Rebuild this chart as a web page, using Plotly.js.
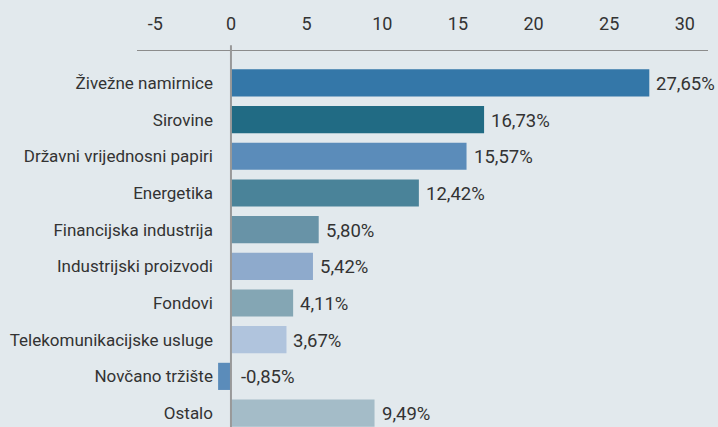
<!DOCTYPE html>
<html><head><meta charset="utf-8">
<script src="https://cdn.plot.ly/plotly-3.0.1.min.js"></script>
<style>html,body{margin:0;padding:0;background:#e2e9ed;}</style>
</head><body>
<div id="chart" style="width:718px;height:427px;"></div>
<script>
const categories = ["Živežne namirnice","Sirovine","Državni vrijednosni papiri","Energetika","Financijska industrija","Industrijski proizvodi","Fondovi","Telekomunikacijske usluge","Novčano tržište","Ostalo"];
const values = [27.65,16.73,15.57,12.42,5.80,5.42,4.11,3.67,-0.85,9.49];
const labels = ["27,65%","16,73%","15,57%","12,42%","5,80%","5,42%","4,11%","3,67%","-0,85%","9,49%"];
const colors = ["#3477a8","#216b84","#5b8cba","#4a8399","#6893a7","#8eaacc","#84a6b4","#b0c4dd","#5b8cba","#a4bcc8"];
const tickVals = [-5,0,5,10,15,20,25,30];

const FONT = 'Roboto,"Liberation Sans",sans-serif';
const xmin = -6.21, xmax = 31.53;
const zeroFrac = (0 - xmin)/(xmax - xmin);

const trace = {
  type:'bar', orientation:'h', y:categories, x:values,
  marker:{color:colors}, width:0.74, hoverinfo:'none'
};
const annotations = categories.map((c,i)=>({
  x: Math.max(values[i],0), y:c, xref:'x', yref:'y', text:labels[i],
  showarrow:false, xanchor:'left', yanchor:'middle', xshift: values[i] < 0 ? 8 : 5, yshift:-1,
  font:{family:FONT,size:18.5,color:'#333'}
}));
const layout = {
  width:718, height:427,
  margin:{l:137,r:10,t:51,b:0},
  paper_bgcolor:'#e2e9ed', plot_bgcolor:'#e2e9ed',
  showlegend:false,
  xaxis:{side:'top', range:[xmin,xmax], tickvals:tickVals, ticktext:tickVals.map(String),
    showgrid:false, zeroline:false, showline:true, linecolor:'#8c8c8c', linewidth:1.5,
    ticks:'', ticklabelstandoff:12, tickfont:{family:FONT,size:18,color:'#333'}},
  yaxis:{type:'category', range:[9.38,-0.87], anchor:'free', position:zeroFrac,
    showgrid:false, zeroline:false, showline:false, ticks:'', ticklabelstandoff:18,
    tickfont:{family:FONT,size:17,color:'#333'}},
  shapes:[{type:'line', xref:'x', yref:'paper', x0:0, x1:0, y0:0, y1:1.015,
    line:{color:'#999',width:2}}],
  annotations:annotations
};
Plotly.newPlot('chart',[trace],layout,{staticPlot:true,displayModeBar:false});
</script>
</body></html>
